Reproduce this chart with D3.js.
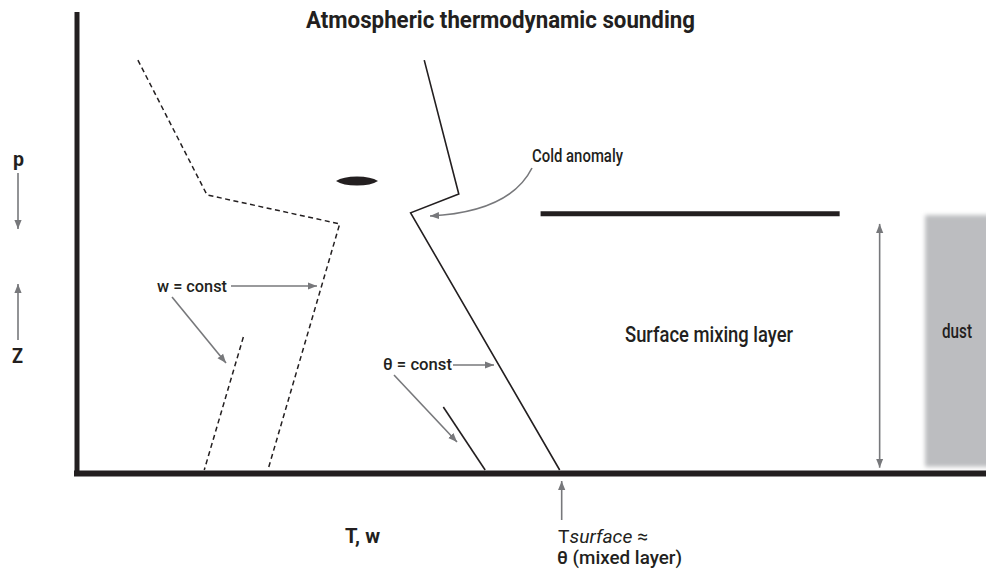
<!DOCTYPE html>
<html><head><meta charset="utf-8">
<script src="https://cdn.jsdelivr.net/npm/d3@7"></script>
<style>body{margin:0;background:#fff}svg{display:block}</style>
</head><body>
<svg id="c" width="986" height="571"></svg>
<script>
// ---- data (T in arbitrary units 0..100, z height 0..100) ----
const tempProfile   = [[38.2,89.1],[42.0,60.0],[36.7,55.9],[53.1,0]];
const dewProfile    = [[6.7,89.1],[14.3,59.8],[28.9,53.5],[21.0,0]];
const wConstLine    = [[18.3,28.9],[14.0,0]];
const thetaConstLine= [[40.3,13.7],[44.9,0]];
const mixingTop     = [[51.0,55.7],[83.9,55.7]];
const mixingArrow   = [[88.3,0.5],[88.3,53.5]];
const cloudPos      = [30.8,62.8];
const dustBox       = [[93.3,0.7],[100,55.4]];
const surfaceT      = 53.1;

const FONT = "'Roboto','Liberation Sans',sans-serif";
const INK = "#231f20", GREY = "#77787b";

const svg = d3.select("#c");
const x = d3.scaleLinear().domain([0,100]).range([77,986]);
const y = d3.scaleLinear().domain([0,100]).range([470,10]);
const line = d3.line().x(d=>x(d[0])).y(d=>y(d[1]));

const defs = svg.append("defs");
defs.append("marker").attr("id","ah").attr("viewBox","0 0 10 10").attr("refX",10).attr("refY",5)
  .attr("markerWidth",9).attr("markerHeight",9).attr("markerUnits","userSpaceOnUse").attr("orient","auto-start-reverse")
  .append("path").attr("d","M0,1 L10,5 L0,9 Z").attr("fill",GREY);
defs.append("filter").attr("id","blur").attr("x","-20%").attr("y","-10%").attr("width","140%").attr("height","120%")
  .append("feGaussianBlur").attr("stdDeviation",2.2);

// dust box
svg.append("rect").attr("x",x(dustBox[0][0])).attr("y",y(dustBox[1][1]))
  .attr("width",x(dustBox[1][0])-x(dustBox[0][0])+6).attr("height",y(dustBox[0][1])-y(dustBox[1][1]))
  .attr("fill","#bcbdc0").attr("filter","url(#blur)");

// axes
svg.append("line").attr("x1",x(0)).attr("x2",x(0)).attr("y1",12).attr("y2",y(0)+6)
  .attr("stroke",INK).attr("stroke-width",5);
svg.append("line").attr("x1",x(0)-3).attr("x2",986).attr("y1",y(0)+3.5).attr("y2",y(0)+3.5)
  .attr("stroke",INK).attr("stroke-width",6);

// profiles
svg.append("path").attr("d",line(dewProfile)).attr("fill","none").attr("stroke",INK)
  .attr("stroke-width",1.5).attr("stroke-dasharray","5,3.5");
svg.append("path").attr("d",line(wConstLine)).attr("fill","none").attr("stroke",INK)
  .attr("stroke-width",1.5).attr("stroke-dasharray","5,3.5");
svg.append("path").attr("d",line(tempProfile)).attr("fill","none").attr("stroke",INK)
  .attr("stroke-width",1.6).attr("stroke-linejoin","miter");
svg.append("path").attr("d",line(thetaConstLine)).attr("fill","none").attr("stroke",INK)
  .attr("stroke-width",1.6);
svg.append("path").attr("d",line(mixingTop)).attr("stroke",INK).attr("stroke-width",5);

// cloud lens
{
  const cx=x(cloudPos[0]), cy=y(cloudPos[1]);
  svg.append("path").attr("d",`M${cx-21},${cy} Q${cx-14},${cy-4.5} ${cx},${cy-4.5} Q${cx+14},${cy-4.5} ${cx+21},${cy} Q${cx+14},${cy+4.5} ${cx},${cy+4.5} Q${cx-14},${cy+4.5} ${cx-21},${cy} Z`)
    .attr("fill",INK);
}

// mixing layer double arrow
svg.append("path").attr("d",line(mixingArrow)).attr("stroke",GREY).attr("stroke-width",1.6)
  .attr("marker-start","url(#ah)").attr("marker-end","url(#ah)");

// helper for text
function txt(s,px,py,size,opt={}){
  const t=svg.append("text").attr("x",px).attr("y",py).attr("font-family",FONT)
    .attr("font-size",size).attr("fill",opt.fill||INK).attr("font-weight",opt.bold?"bold":500)
    .attr("text-anchor",opt.anchor||"start").text(s);
  if(opt.len) t.attr("textLength",opt.len).attr("lengthAdjust","spacingAndGlyphs");
  return t;
}
function arrow(pts){ svg.append("path").attr("d",d3.line()(pts)).attr("fill","none")
  .attr("stroke",GREY).attr("stroke-width",1.6).attr("marker-end","url(#ah)"); }

// title
txt("Atmospheric thermodynamic sounding",306,28,24,{bold:true,len:389});

// left axis labels
txt("p",13,166,21,{bold:true,len:11});
arrow([[18,173],[18,229]]);
arrow([[18,340],[18,284]]);
txt("Z",12,363,21,{bold:true,len:11});

// cold anomaly
txt("Cold anomaly",532,162,17.5,{len:91});
svg.append("path").attr("d","M532,168 Q510,212 430,216").attr("fill","none")
  .attr("stroke",GREY).attr("stroke-width",1.6).attr("marker-end","url(#ah)");

// w = const
txt("w = const",157,292,17,{len:70});
arrow([[231,286],[317,286]]);
arrow([[172,297],[226,363]]);

// theta = const
txt("θ = const",383,370,17,{len:69});
arrow([[453,365],[494,365]]);
arrow([[394,375],[457,442]]);

// mixing layer
txt("Surface mixing layer",625,342,22,{len:168});
txt("dust",942,338,20,{len:30});

// bottom labels
txt("T, w",345,543,20,{bold:true,len:35});
arrow([[x(surfaceT)+2,520],[x(surfaceT)+2,481]]);
{
  const t=svg.append("text").attr("x",558).attr("y",543).attr("font-family",FONT).attr("font-size",19)
    .attr("fill",INK).attr("textLength",90).attr("lengthAdjust","spacingAndGlyphs");
  t.append("tspan").text("T");
  t.append("tspan").attr("font-style","italic").text("surface");
  t.append("tspan").text(" ≈");
}
txt("θ (mixed layer)",557,564,19,{len:125});
</script>
</body></html>
